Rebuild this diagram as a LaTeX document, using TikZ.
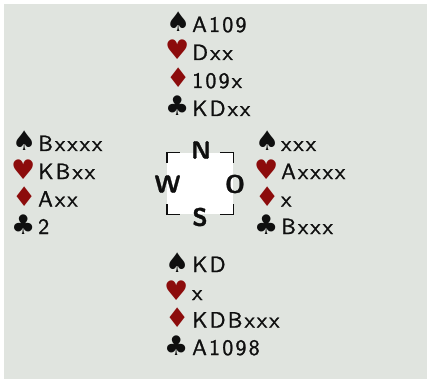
\documentclass[tikz,border=0pt]{standalone}
\usepackage{fontspec}
\newfontfamily\suitfont{DejaVu Sans}
\newfontfamily\cardfont{lmsans10-regular.otf}[LetterSpace=10,FakeBold=1.2]
\newfontfamily\dirfont{lmsans10-bold.otf}[FakeBold=1]
\definecolor{bg}{RGB}{224,228,223}
\definecolor{suitred}{RGB}{140,12,12}
\definecolor{ink}{RGB}{15,15,15}
\begin{document}
\begin{tikzpicture}[x=1pt,y=-1pt,
  sym/.style={anchor=base west,inner sep=0pt,text=ink,font=\suitfont\fontsize{27}{27}\selectfont},
  redsym/.style={sym,text=suitred},
  card/.style={anchor=base west,inner sep=0pt,text=ink,font=\cardfont\fontsize{22}{26}\selectfont},
  dir/.style={inner sep=0pt,text=ink,font=\dirfont\fontsize{25}{25}\selectfont},
  bracket/.style={line width=1.4pt,draw=ink}]
\useasboundingbox (0,0) rectangle (427,379);
\fill[bg] (4,4) rectangle (427,379);
% North
\node[sym]    (ns1) at (166,32)  {♠};
\node[card]   (nt1) at (192,32)  {A109};
\node[redsym] (ns2) at (165,60)  {♥};
\node[card]   (nt2) at (192,60)  {Dxx};
\node[redsym] (ns3) at (166,88)  {♦};
\node[card]   (nt3) at (192,88)  {109x};
\node[sym]    (ns4) at (165,116) {♣};
\node[card]   (nt4) at (192,116) {KDxx};
% West
\node[sym]    (ws1) at (12,151)  {♠};
\node[card]   (wt1) at (38,151)  {Bxxxx};
\node[redsym] (ws2) at (11,179)  {♥};
\node[card]   (wt2) at (38,179)  {KBxx};
\node[redsym] (ws3) at (12,206.5){♦};
\node[card]   (wt3) at (38,206.5){Axx};
\node[sym]    (ws4) at (11,234)  {♣};
\node[card]   (wt4) at (38,234)  {2};
% East
\node[sym]    (es1) at (255,151)  {♠};
\node[card]   (et1) at (281,151)  {xxx};
\node[redsym] (es2) at (254,179)  {♥};
\node[card]   (et2) at (281,179)  {Axxxx};
\node[redsym] (es3) at (255,206.5){♦};
\node[card]   (et3) at (281,206.5){x};
\node[sym]    (es4) at (254,234)  {♣};
\node[card]   (et4) at (281,234)  {Bxxx};
% South
\node[sym]    (ss1) at (165,272)  {♠};
\node[card]   (st1) at (192,272)  {KD};
\node[redsym] (ss2) at (164,300)  {♥};
\node[card]   (st2) at (192,300)  {x};
\node[redsym] (ss3) at (165,327.5){♦};
\node[card]   (st3) at (192,327.5){KDBxxx};
\node[sym]    (ss4) at (164,355)  {♣};
\node[card]   (st4) at (192,355)  {A1098};
% table
\node[fill=white,minimum width=66pt,minimum height=61pt,inner sep=0pt] (tab) at (200,183.5) {};
\draw[bracket] ([xshift=13pt]tab.north west) -| ([yshift=-10pt]tab.north west);
\draw[bracket] ([xshift=-13pt]tab.north east) -| ([yshift=-10pt]tab.north east);
\draw[bracket] ([xshift=13pt]tab.south west) -| ([yshift=10pt]tab.south west);
\draw[bracket] ([xshift=-13pt]tab.south east) -| ([yshift=10pt]tab.south east);
\node[dir] (dn) at (201,150) {N};
\node[dir] (dw) at (167.5,184) {W};
\node[dir] (do) at (235,184) {O};
\node[dir] (ds) at (200,217) {S};
\end{tikzpicture}
\end{document}
